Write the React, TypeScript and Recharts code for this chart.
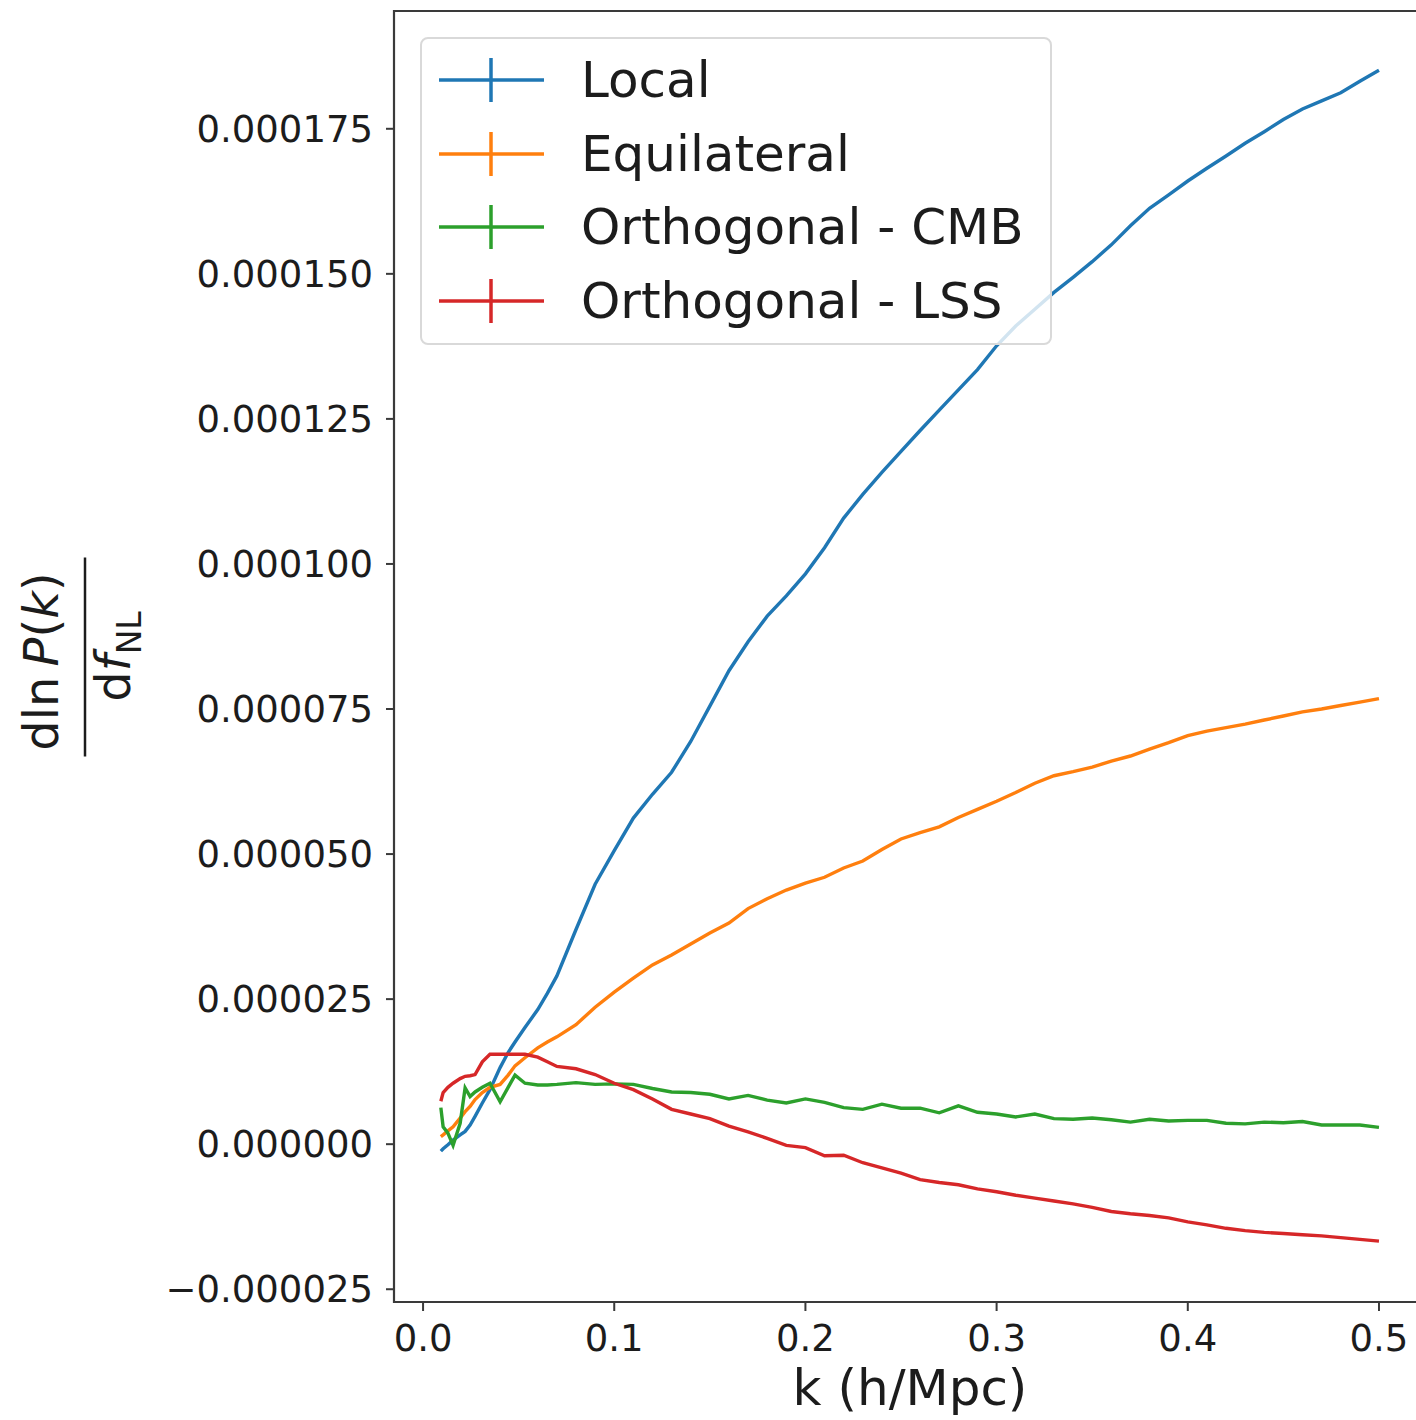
import React from "react";
import { LineChart, Line, XAxis, YAxis, Legend, ReferenceArea } from "recharts";

// k grid (h/Mpc), finer where the curves wiggle at low k
const kValues = [
  0.0093, 0.0105, 0.013, 0.0157, 0.0194, 0.022, 0.0246, 0.0272, 0.031, 0.035,
  0.0403, 0.0445, 0.0481, 0.0533, 0.06, 0.065, 0.07, 0.08, 0.09, 0.1, 0.11,
  0.12, 0.13, 0.14, 0.15, 0.16, 0.17, 0.18, 0.19, 0.2, 0.21, 0.22, 0.23, 0.24,
  0.25, 0.26, 0.27, 0.28, 0.29, 0.3, 0.31, 0.32, 0.33, 0.34, 0.35, 0.36, 0.37,
  0.38, 0.39, 0.4, 0.41, 0.42, 0.43, 0.44, 0.45, 0.46, 0.47, 0.48, 0.49, 0.5,
];

// dlnP/dfNL, in units of 1e-6
const localE6 = [
  -1.2, -0.8, -0.1, 0.7, 1.6, 2.2, 3.3, 4.8, 7.1, 9.4, 13.2, 15.8, 17.6, 20.1,
  23.2, 26.0, 29.0, 37.0, 44.8, 50.6, 56.2, 60.3, 64.1, 69.4, 75.5, 81.6, 86.6,
  91.0, 94.5, 98.3, 102.8, 107.9, 112.0, 115.8, 119.4, 123.0, 126.5, 130.0,
  133.5, 137.6, 141.0, 143.9, 146.8, 149.4, 152.1, 155.0, 158.3, 161.3, 163.6,
  166.0, 168.2, 170.3, 172.5, 174.5, 176.6, 178.4, 179.8, 181.2, 183.2, 185.1,
];
const equilateralE6 = [
  1.3, 1.6, 2.3, 3.0, 4.5, 5.6, 6.5, 7.7, 8.9, 9.8, 10.3, 11.9, 13.5, 14.9,
  16.6, 17.6, 18.5, 20.6, 23.6, 26.2, 28.6, 30.9, 32.6, 34.5, 36.4, 38.1, 40.6,
  42.3, 43.8, 45.0, 46.0, 47.6, 48.8, 50.8, 52.6, 53.7, 54.7, 56.3, 57.7, 59.1,
  60.6, 62.2, 63.5, 64.2, 65.0, 66.0, 66.9, 68.1, 69.2, 70.4, 71.2, 71.8, 72.4,
  73.1, 73.8, 74.5, 75.0, 75.6, 76.2, 76.8,
];
const orthoCmbE6 = [
  6.3, 3.0, 1.9, -0.2, 3.6, 9.7, 8.2, 9.0, 9.8, 10.5, 7.3, 9.8, 11.9, 10.5,
  10.2, 10.2, 10.3, 10.6, 10.3, 10.4, 10.3, 9.6, 9.0, 8.9, 8.6, 7.8, 8.4, 7.6,
  7.1, 7.8, 7.2, 6.3, 6.0, 6.9, 6.2, 6.2, 5.4, 6.6, 5.5, 5.2, 4.7, 5.2, 4.4,
  4.3, 4.5, 4.2, 3.8, 4.3, 4.0, 4.1, 4.1, 3.6, 3.5, 3.8, 3.7, 3.9, 3.3, 3.3,
  3.3, 2.9,
];
const orthoLssE6 = [
  7.4, 8.9, 9.8, 10.5, 11.3, 11.7, 11.8, 12.0, 14.2, 15.5, 15.5, 15.5, 15.5,
  15.5, 15.0, 14.2, 13.4, 13.0, 12.0, 10.5, 9.4, 7.8, 6.0, 5.2, 4.4, 3.1, 2.1,
  1.0, -0.2, -0.6, -2.0, -1.9, -3.2, -4.1, -5.0, -6.1, -6.6, -7.0, -7.7, -8.2,
  -8.8, -9.3, -9.8, -10.3, -10.9, -11.6, -12.0, -12.3, -12.7, -13.4, -13.9,
  -14.5, -14.9, -15.2, -15.4, -15.6, -15.8, -16.1, -16.4, -16.7,
];

const seriesNames = ["Local", "Equilateral", "Orthogonal - CMB", "Orthogonal - LSS"];
const seriesKeys = ["local", "equilateral", "orthoCmb", "orthoLss"];
const seriesColors = ["#1f77b4", "#ff7f0e", "#2ca02c", "#d62728"];

const xTicks = [0, 0.1, 0.2, 0.3, 0.4, 0.5];
const yTicks = [-25e-6, 0, 25e-6, 50e-6, 75e-6, 100e-6, 125e-6, 150e-6, 175e-6];
const xDomain = [-0.0152, 0.5246];
const yDomain = [-27.2e-6, 195.3e-6];

const SCALE = 1e-6;
const tableData = kValues.map((k, i) => ({
  k,
  local: localE6[i] * SCALE,
  equilateral: equilateralE6[i] * SCALE,
  orthoCmb: orthoCmbE6[i] * SCALE,
  orthoLss: orthoLssE6[i] * SCALE,
}));

const FONT = "DejaVu Sans, Verdana, sans-serif";
const INK = "#1c1c1c";
const SPINE = "#3a3a3a";

const formatY = (v: number) => v.toFixed(6).replace("-", "\u2212");
const formatX = (v: number) => v.toFixed(1);

const renderLegend = () => (
  <div
    style={{
      width: 632,
      height: 308,
      boxSizing: "border-box",
      border: "2px solid #d9d9d9",
      borderRadius: 8,
      background: "rgba(255,255,255,0.8)",
      position: "relative",
      fontFamily: FONT,
      fontSize: 50,
      color: INK,
    }}
  >
    {seriesNames.map((name, i) => (
      <div
        key={name}
        style={{
          position: "absolute",
          left: 0,
          top: 41 + i * 73.7 - 30,
          height: 60,
          display: "flex",
          alignItems: "center",
          whiteSpace: "nowrap",
        }}
      >
        <svg width={150} height={60} style={{ display: "block" }}>
          <line x1={17} x2={122} y1={30} y2={30} stroke={seriesColors[i]} strokeWidth={3.5} />
          <line x1={69} x2={69} y1={8} y2={52} stroke={seriesColors[i]} strokeWidth={3.5} />
        </svg>
        <span style={{ marginLeft: 9, lineHeight: "60px" }}>{name}</span>
      </div>
    ))}
  </div>
);

const renderYLabel = (props: any) => {
  const { viewBox } = props;
  const cy = viewBox.y + viewBox.height / 2;
  return (
    <g fontFamily={FONT} fill={INK}>
      <text transform={`translate(58, ${cy + 5}) rotate(-90)`} textAnchor="middle" fontSize={48}>
        dln<tspan dx={10} fontStyle="italic">P</tspan>(<tspan fontStyle="italic">k</tspan>)
      </text>
      <line x1={85} x2={85} y1={cy - 99} y2={cy + 100} stroke={INK} strokeWidth={2.5} />
      <text transform={`translate(130, ${cy}) rotate(-90)`} textAnchor="middle" fontSize={48}>
        d<tspan fontStyle="italic">f</tspan>
        <tspan fontSize={33} dy={11}>NL</tspan>
      </text>
    </g>
  );
};

const renderXLabel = (props: any) => {
  const { viewBox } = props;
  return (
    <text
      x={viewBox.x + viewBox.width / 2}
      y={1405}
      textAnchor="middle"
      fontFamily={FONT}
      fontSize={50}
      fill={INK}
    >
      k (h/Mpc)
    </text>
  );
};

export default function App() {
  return (
    <div
      style={{
        position: "fixed",
        left: 0,
        top: 0,
        width: 1416,
        height: 1420,
        overflow: "hidden",
        background: "#fff",
      }}
    >
      <LineChart
        width={1440}
        height={1420}
        data={tableData}
        margin={{ top: 11, right: 14, bottom: 0, left: 0 }}
      >
        <ReferenceArea
          x1={xDomain[0]}
          x2={xDomain[1]}
          y1={yDomain[0]}
          y2={yDomain[1]}
          fill="none"
          stroke={SPINE}
          strokeWidth={2.2}
          ifOverflow="visible"
        />
        <XAxis
          dataKey="k"
          type="number"
          domain={xDomain}
          allowDataOverflow
          ticks={xTicks}
          tickFormatter={formatX}
          height={118}
          axisLine={false}
          tickLine={{ stroke: SPINE, strokeWidth: 2 }}
          tickSize={9}
          tickMargin={14}
          tick={{ fontFamily: FONT, fontSize: 37, fill: INK }}
          label={renderXLabel}
        />
        <YAxis
          type="number"
          domain={yDomain}
          allowDataOverflow
          ticks={yTicks}
          tickFormatter={formatY}
          width={394}
          axisLine={false}
          tickLine={{ stroke: SPINE, strokeWidth: 2 }}
          tickSize={8}
          tickMargin={13}
          tick={{ fontFamily: FONT, fontSize: 37, fill: INK }}
          label={renderYLabel}
        />
        {seriesKeys.map((key, i) => (
          <Line
            key={key}
            type="linear"
            dataKey={key}
            name={seriesNames[i]}
            stroke={seriesColors[i]}
            strokeWidth={3.4}
            dot={false}
            activeDot={false}
            isAnimationActive={false}
          />
        ))}
        <Legend
          layout="vertical"
          align="center"
          verticalAlign="middle"
          content={renderLegend}
          wrapperStyle={{ left: 420, top: 37, width: 632, height: 308 }}
        />
      </LineChart>
    </div>
  );
}
